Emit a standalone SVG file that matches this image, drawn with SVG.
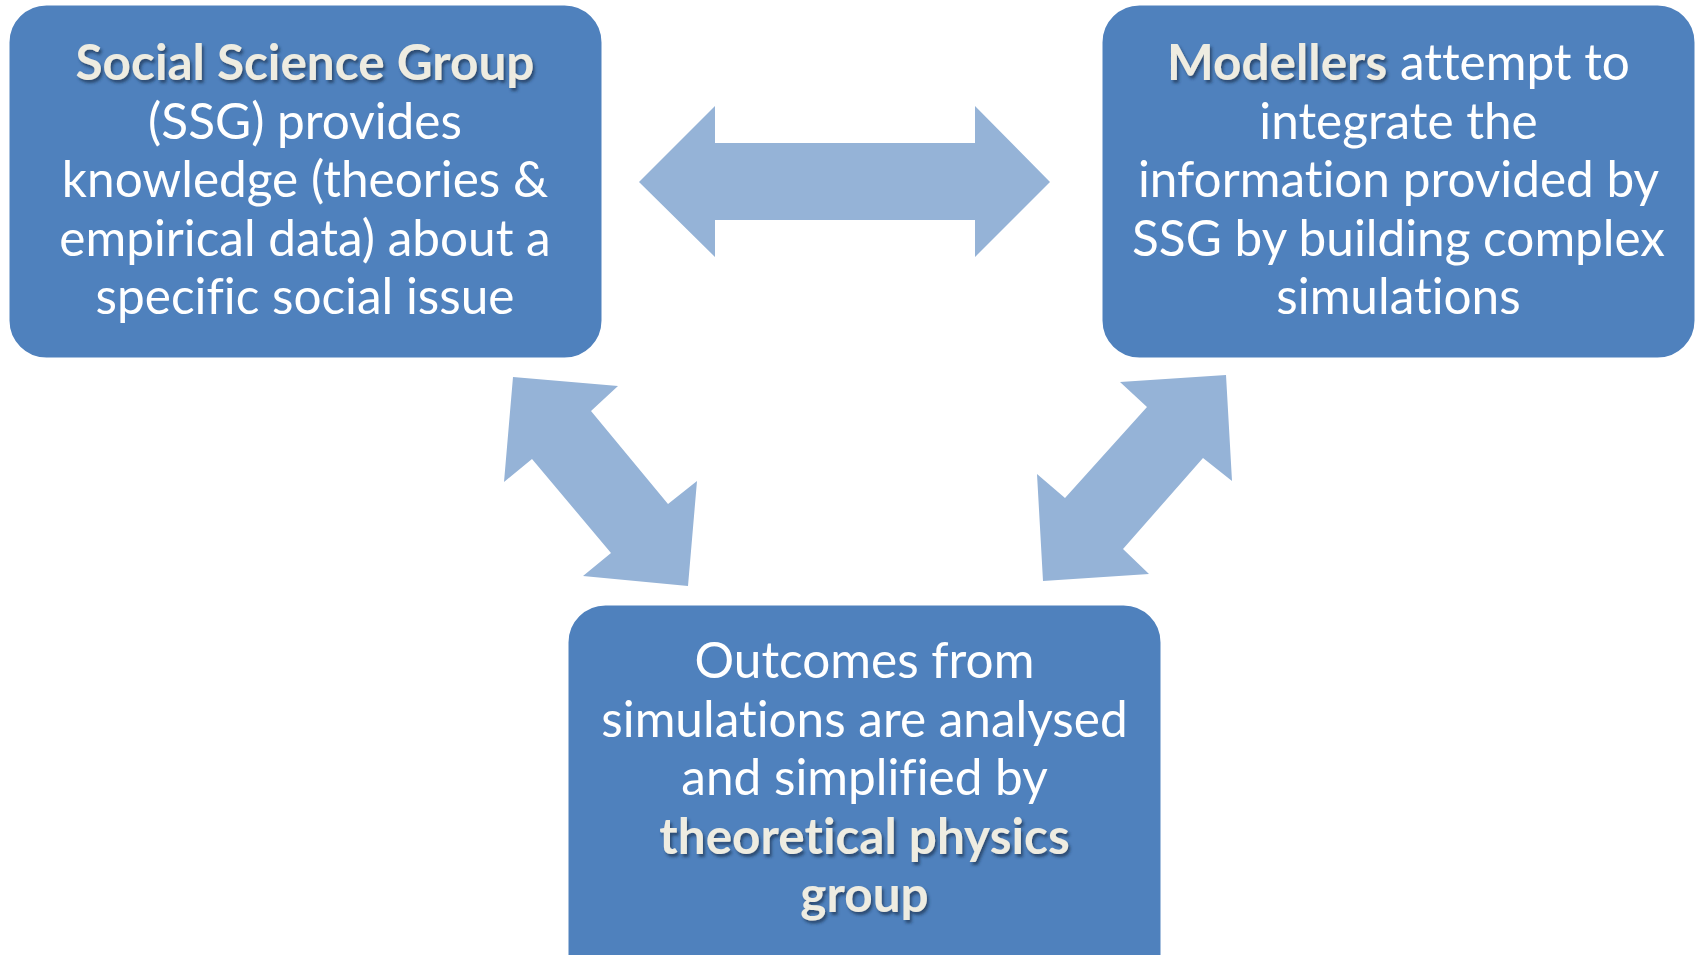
<svg xmlns="http://www.w3.org/2000/svg" width="1698" height="955" viewBox="0 0 1698 955">
<defs>
<filter id="sh" x="-10%" y="-30%" width="120%" height="160%">
<feDropShadow dx="2" dy="3" stdDeviation="1.5" flood-color="#1f3552" flood-opacity="0.7"/>
</filter>
<style>
.box{fill:#4F81BD;stroke:#ffffff;stroke-width:2}
.arrow{fill:#95B3D7}
.t{font-family:Lato,"Open Sans","Liberation Sans",sans-serif;font-size:49.5px;fill:#ffffff;text-anchor:middle;font-variant-ligatures:none;font-feature-settings:"liga" 0,"dlig" 0}
.b{font-weight:bold;fill:#EEECE1;filter:url(#sh)}
</style>
</defs>
<rect width="1698" height="955" fill="#ffffff"/>
<g id="connectors">
<polygon class="arrow" points="639,182 715,106 715,143 975,143 975,106 1050,182 975,257 975,220 715,220 715,257"/>
<polygon class="arrow" points="513,377 618,386 591,411 668,504 697,481 688,586 583,576 611,553 532,459 504,482"/>
<polygon class="arrow" points="1226,375 1120,382 1147,407 1065,498 1037,474 1043,581 1149,574 1123,549 1203,458 1232,481"/>
</g>
<g id="node-ssg">
<rect class="box" x="8.5" y="4.5" width="594" height="354" rx="38"/>
<text class="t" x="305" y="80"><tspan class="b">Social Science Group</tspan></text>
<text class="t" x="305" y="138.5">(SSG) provides</text>
<text class="t" x="305" y="197">knowledge (theories &amp;</text>
<text class="t" x="305" y="255.5">empirical data) about a</text>
<text class="t" x="305" y="314">specific social issue</text>
</g>
<g id="node-modellers">
<rect class="box" x="1101.5" y="4.5" width="594" height="354" rx="38"/>
<text class="t" x="1398.5" y="80"><tspan class="b">Modellers</tspan> attempt to</text>
<text class="t" x="1398.5" y="138.5">integrate the</text>
<text class="t" x="1398.5" y="197">information provided by</text>
<text class="t" x="1398.5" y="255.5">SSG by building complex</text>
<text class="t" x="1398.5" y="314">simulations</text>
</g>
<g id="node-physics">
<rect class="box" x="567.5" y="604.5" width="594" height="400" rx="38"/>
<text class="t" x="864.5" y="678">Outcomes from</text>
<text class="t" x="864.5" y="736.5">simulations are analysed</text>
<text class="t" x="864.5" y="795">and simplified by</text>
<text class="t" x="864.5" y="853.5"><tspan class="b">theoretical physics</tspan></text>
<text class="t" x="864.5" y="912"><tspan class="b">group</tspan></text>
</g>
</svg>
